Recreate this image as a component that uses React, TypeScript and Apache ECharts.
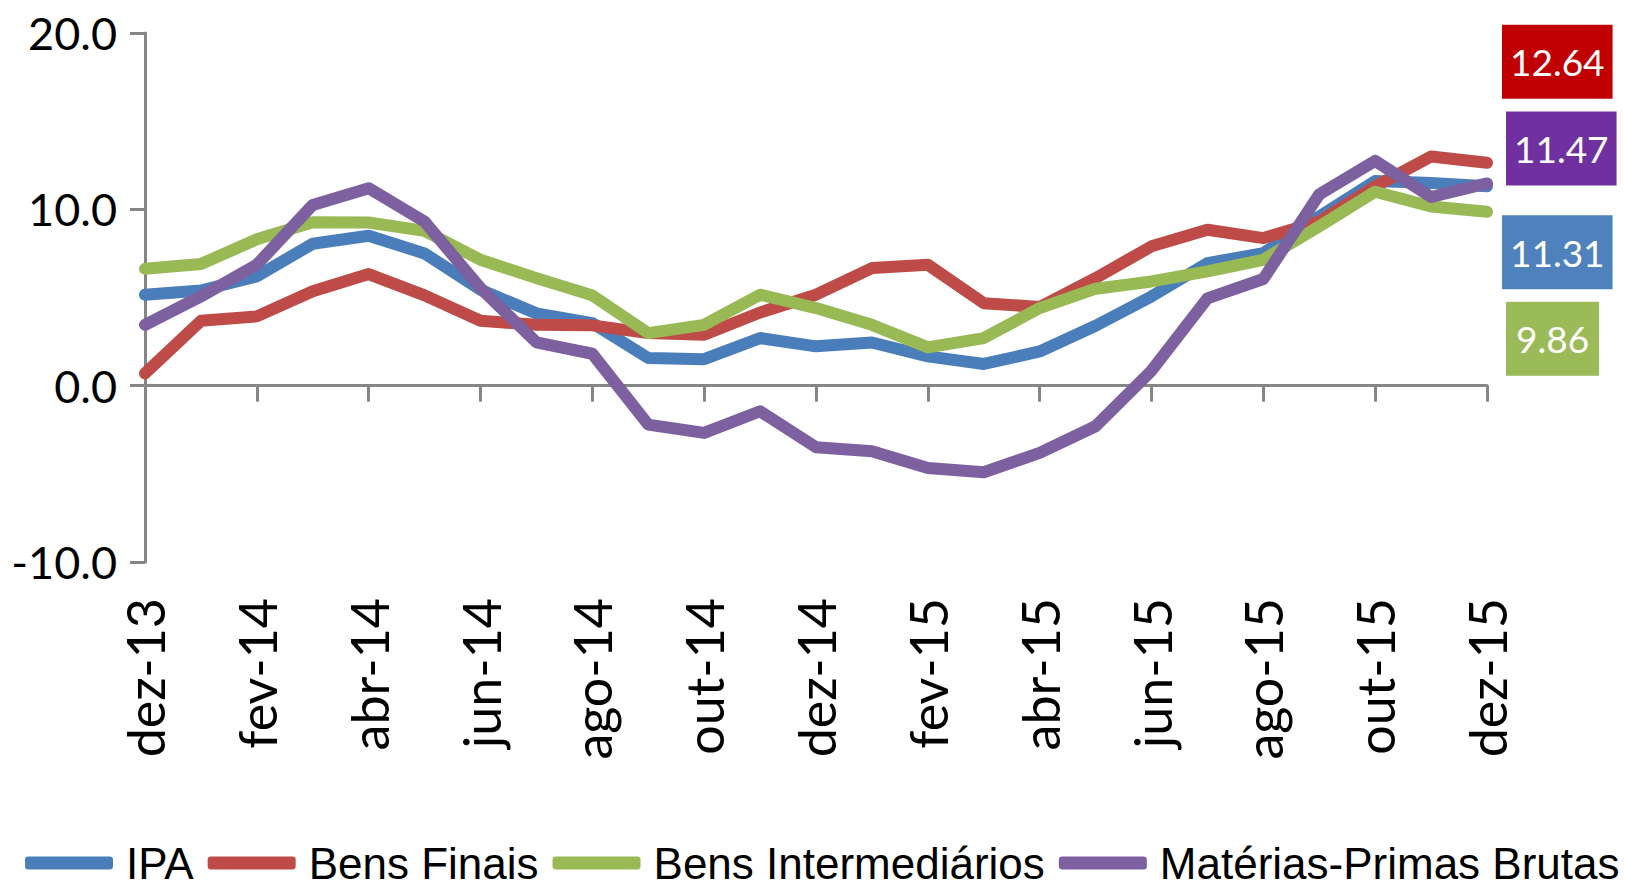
import React, { useEffect, useRef } from "react";
import * as echarts from "echarts";

const months = [
  "dez-13", "jan-14", "fev-14", "mar-14", "abr-14", "mai-14", "jun-14", "jul-14", "ago-14",
  "set-14", "out-14", "nov-14", "dez-14", "jan-15", "fev-15", "mar-15", "abr-15", "mai-15",
  "jun-15", "jul-15", "ago-15", "set-15", "out-15", "nov-15", "dez-15",
];

const ipa = [5.16, 5.4, 6.2, 8.05, 8.5, 7.5, 5.44, 4.1, 3.55, 1.57, 1.5, 2.7, 2.23, 2.45, 1.66, 1.23, 1.94, 3.4, 5.06, 6.95, 7.52, 9.59, 11.6, 11.5, 11.31];
const bensFinais = [0.7, 3.68, 3.93, 5.35, 6.33, 5.12, 3.68, 3.45, 3.42, 2.98, 2.89, 4.15, 5.16, 6.67, 6.86, 4.68, 4.46, 6.1, 7.9, 8.84, 8.37, 9.31, 11.3, 13.0, 12.64];
const bensIntermediarios = [6.63, 6.9, 8.3, 9.27, 9.25, 8.78, 7.14, 6.1, 5.12, 2.98, 3.45, 5.16, 4.4, 3.45, 2.17, 2.7, 4.4, 5.5, 5.91, 6.48, 7.14, 9.03, 11.0, 10.16, 9.86];
const materiasPrimas = [3.45, 5.06, 6.86, 10.25, 11.2, 9.3, 5.53, 2.46, 1.81, -2.21, -2.68, -1.45, -3.49, -3.72, -4.67, -4.91, -3.81, -2.3, 0.85, 4.95, 6.05, 10.85, 12.75, 10.7, 11.47];

const seriesNames = ["IPA", "Bens Finais", "Bens Intermediários", "Matérias-Primas Brutas"];
const lineColors = ["#4A7EBB", "#BE4B48", "#98B954", "#7D60A0"];
const boxColors = ["#4F81BD", "#C00000", "#9BBB59", "#7030A0"];
const labelOffsets: [number, number][] = [[15, 66], [15, -101], [19, 127], [19, -35]];
const labelPadH = [8, 8, 10, 8];

const yMin = -10;
const yMax = 20;
const yStep = 10;

export default function App() {
  const ref = useRef<HTMLDivElement>(null);

  useEffect(() => {
    if (!ref.current) return;
    const chart = echarts.init(ref.current, null, { renderer: "svg" });
    const data = [ipa, bensFinais, bensIntermediarios, materiasPrimas];
    const axisGray = "#868686";

    chart.setOption({
      animation: false,
      backgroundColor: "#ffffff",
      grid: { left: 145, right: 138, top: 33, bottom: 329, containLabel: false },
      legend: {
        data: seriesNames.map((n) => ({ name: n, icon: "roundRect" })),
        left: 20,
        top: 836,
        itemWidth: 88,
        itemHeight: 13,
        itemGap: 14,
        textStyle: {
          fontFamily: "'Liberation Sans', Arial, sans-serif",
          fontSize: 44,
          color: "#000",
          padding: [0, 0, 0, 8],
        },
      },
      xAxis: [
        {
          type: "category",
          data: months,
          boundaryGap: false,
          position: "bottom",
          axisLine: { show: true, onZero: true, lineStyle: { color: axisGray, width: 3 } },
          axisTick: { show: true, interval: 1, length: 16, inside: false, lineStyle: { color: axisGray, width: 3 } },
          axisLabel: { show: false },
          splitLine: { show: false },
        },
        {
          type: "category",
          data: months,
          boundaryGap: false,
          position: "bottom",
          axisLine: { show: false, onZero: false },
          axisTick: { show: false },
          axisLabel: {
            show: true,
            interval: 1,
            rotate: 90,
            margin: 36,
            fontFamily: "Lato, sans-serif",
            fontSize: 52,
            color: "#000",
          },
          splitLine: { show: false },
        },
      ],
      yAxis: {
        type: "value",
        min: yMin,
        max: yMax,
        interval: yStep,
        axisLine: { show: true, lineStyle: { color: axisGray, width: 3 } },
        axisTick: { show: true, length: 15, lineStyle: { color: axisGray, width: 3 } },
        splitLine: { show: false },
        axisLabel: {
          margin: 28,
          fontFamily: "Lato, sans-serif",
          fontSize: 45,
          color: "#000",
          formatter: (v: number) => v.toFixed(1),
        },
      },
      series: data.map((d, i) => ({
        name: seriesNames[i],
        type: "line",
        xAxisIndex: 0,
        data: d,
        symbol: "none",
        showSymbol: false,
        color: lineColors[i],
        lineStyle: { width: 12, color: lineColors[i], cap: "round", join: "round" },
        endLabel: {
          show: true,
          distance: 0,
          offset: labelOffsets[i],
          formatter: (p: any) => Number(p.value).toFixed(2),
          color: "#fff",
          fontFamily: "Lato, sans-serif",
          fontSize: 37,
          lineHeight: 44,
          backgroundColor: boxColors[i],
          padding: [15, labelPadH[i], 15, labelPadH[i]],
        },
      })),
    });

    return () => chart.dispose();
  }, []);

  return (
    <div
      ref={ref}
      style={{ position: "absolute", left: 0, top: 0, width: 1625, height: 891, background: "#fff" }}
    />
  );
}
